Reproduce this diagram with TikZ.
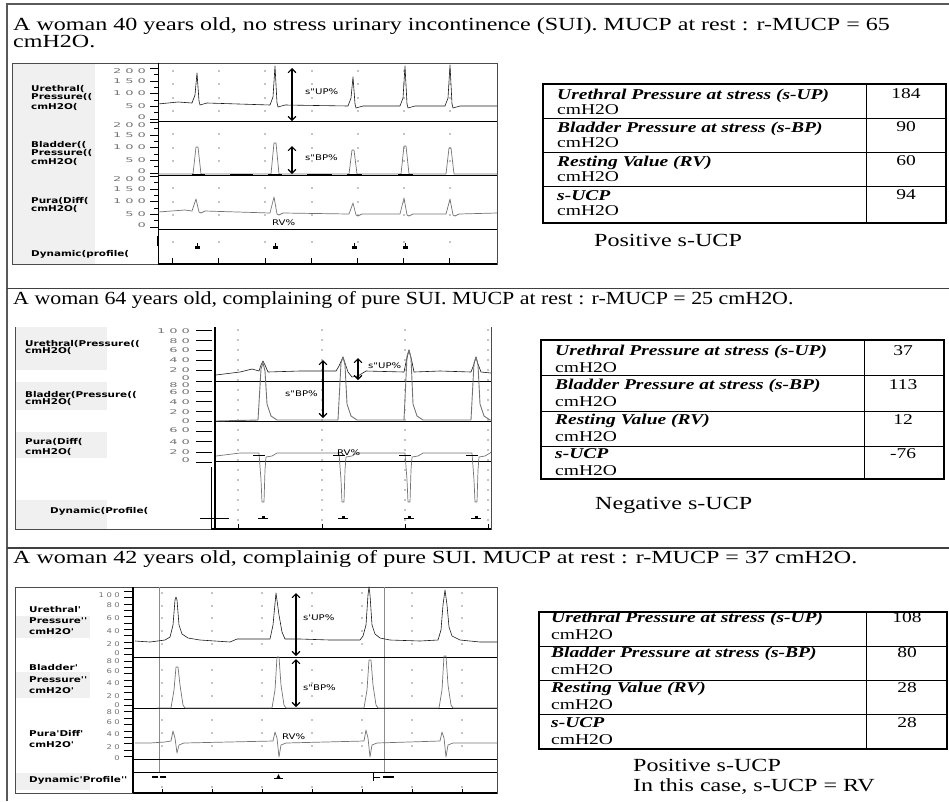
\documentclass[tikz,border=0pt]{standalone}
\usepackage{fontspec}
\usepackage{graphicx}
\setmainfont{Liberation Serif}
\newfontfamily\chartfont{DejaVu Sans}
\newfontfamily\sclfont{DejaVu Sans}[LetterSpace=30]
\usetikzlibrary{arrows}

\newcommand{\wx}[1]{\scalebox{1.3}[1]{#1}}
\newcommand{\wxx}[1]{\scalebox{2}[1]{#1}}

\tikzset{
  headline/.style={anchor=base west,inner sep=0pt,font=\fontsize{18.5}{20}\selectfont},
  cellt/.style={anchor=base west,inner sep=0pt,font=\fontsize{15}{16}\selectfont},
  cellv/.style={anchor=base,inner sep=0pt,font=\fontsize{15}{16}\selectfont},
  chan/.style={anchor=base west,inner sep=0pt,font=\chartfont\bfseries\fontsize{8}{8}\selectfont},
  scl/.style={anchor=east,inner sep=0pt,font=\sclfont\fontsize{6.5}{6.5}\selectfont,text=black!55},
  anno/.style={anchor=base west,inner sep=0pt,font=\chartfont\fontsize{7.8}{8}\selectfont},
  sig/.style={line width=0.6pt,black!90,line join=round},
  gsig/.style={line width=0.7pt,black!55,line join=round},
  dimarrow/.style={<->,line width=1.2pt},
  chartframe/.style={line width=0.6pt,black!70},
  rowline/.style={line width=0.6pt,black},
  tabframe/.style={line width=1.4pt},
  patch/.style={black!6},
}

\begin{document}
\begin{tikzpicture}[x=1pt,y=-1pt,>=angle 90]
\useasboundingbox (0,0) rectangle (949,801);
% frame of the figure
\draw[line width=1.2pt,black!65] (7,801) -- (7,4) -- (949,4);
\draw[line width=1.2pt,black!75] (7,288.5) -- (949,288.5);
\draw[line width=1.2pt,black!75] (7,548) -- (949,548);

% ---------------- panel I
\node[headline] (t1a) at (13,30) {\wx{A woman 40 years old, no stress urinary incontinence (SUI). MUCP at rest : r-MUCP = 65}};
\node[headline] (t1b) at (13,47) {\wx{cmH2O.}};
\fill[patch] (12,63) rectangle (95,264);
\draw[chartframe] (12,63) rectangle (497,264);
\node[chan] (u1a) at (31,91) {\wx{Urethral(}};
\node[chan] (u1b) at (31,99.5) {\wx{Pressure((}};
\node[chan] (u1c) at (31,109) {\wx{cmH2O(}};
\node[chan] (b1a) at (31,147) {\wx{Bladder((}};
\node[chan] (b1b) at (31,155.5) {\wx{Pressure((}};
\node[chan] (b1c) at (31,164) {\wx{cmH2O(}};
\node[chan] (p1a) at (31,203) {\wx{Pura(Diff(}};
\node[chan] (p1b) at (31,211.5) {\wx{cmH2O(}};
\node[chan] (d1) at (31,256) {\wx{Dynamic(profile(}};
% scales
\foreach \z in {119,173,227}{
  \foreach \v [count=\k from 0] in {0,50,100,150,200}
    \node[scl] (s\z\k) at (146,{\z-\k*12.75+(\k==4)*3-(\k==0)*1.5}) {\wxx{\v}};
  \foreach \k in {0,...,4} \draw (150,\z-\k*12.75) -- (158,\z-\k*12.75);
  \foreach \k in {0,...,3} \draw (154,\z-\k*12.75-6.4) -- (158,\z-\k*12.75-6.4);
}
\foreach \x in {173,219,265,312,358,404,450}
  \foreach \y in {71,84,98,111,134,148,161,188,202,215,242}
    \fill (\x,\y) circle (0.6);
\foreach \y in {121,175,229} \draw[rowline] (158,\y) -- (497,\y);
\draw[line width=1pt] (158,63) -- (158,264);
\draw[line width=2pt] (157.5,236) -- (157.5,246);
\draw[line width=1.5pt] (158,264) -- (497,264);
\foreach \x in {172,218,265,311,357,403,449} \draw (\x,264) -- (\x,258);
% urethral
\draw[sig] (158,104) -- (178,102)
  \foreach \px/\py/\b in {197/73/103,275/66/105,353/77/106,405/66/106,450/65/106}
  { -- (\px-5,\b) -- (\px-2,\b-8) -- (\px,\py) -- (\px+2,\b-2) -- (\px+3,\b+2) -- (\px+10,\b) }
  -- (497,106);
% bladder
\draw[gsig] (158,174)
  \foreach \px/\py in {197/147,275/143,353/150,405/146,450/148}
  { -- (\px-4,174) -- (\px-1,\py) -- (\px+1,\py) -- (\px+4,174) }
  -- (497,174);
\foreach \a/\b in {192/205,230/253,268/282,307/332,347/362,398/413}
  \draw[line width=1pt] (\a,174) -- (\b,174);
% pura diff
\draw[gsig] (158,212) -- (185,210)
  \foreach \px/\py/\b in {196/199/211,274/197/213,353/203/214,404/198/214,450/199/214}
  { -- (\px-4,\b) -- (\px,\py) -- (\px+3,\b+1) -- (\px+5,\b+2) -- (\px+9,\b) }
  -- (497,213);
% dynamic profile
\foreach \x in {197,275,354,405}{
  \fill (\x-2.5,246) rectangle (\x+2.5,248.5);
  \draw (\x,243) -- (\x,246);
}
\draw[dimarrow] (292,68) -- (292,121);
\draw[dimarrow] (292,146) -- (292,174);
\node[anno] (sup1) at (305,94) {\wx{s"UP\%}};
\node[anno] (sbp1) at (305,160) {\wx{s"BP\%}};
\node[anno] (rv1) at (272,225) {\wx{RV\%}};
% table
\draw[tabframe] (543,84) rectangle (946,223);
\draw[line width=1pt] (866,84) -- (866,223);
\foreach \y in {118,152,186} \draw[line width=1pt] (543,\y) -- (946,\y);
\foreach \lab/\val [count=\r from 0] in {{Urethral Pressure at stress (s-UP)}/184,{Bladder Pressure at stress (s-BP)}/90,{Resting Value (RV)}/60,{s-UCP}/94}{
  \node[cellt] (l1\r) at (557,99+\r*33.7) {\wx{\textbf{\textit{\lab}}}};
  \node[cellt] (c1\r) at (557,114+\r*33.7) {\wx{cmH2O}};
  \node[cellv] (v1\r) at (906,98+\r*33.7) {\wx{\val}};
}
\node[headline] (r1) at (594,246) {\wx{Positive s-UCP}};

% ---------------- panel II
\node[headline] (t2) at (13,304) {\scalebox{1.185}[1]{A woman 64 years old, complaining of pure SUI. MUCP at rest : r-MUCP = 25 cmH2O.}};
\fill[patch] (15,327) rectangle (107,370);
\fill[patch] (15,382) rectangle (107,410);
\fill[patch] (15,432) rectangle (107,458);
\fill[patch] (15,500) rectangle (107,529);
\draw[chartframe] (15,327) -- (15,529) -- (491,529) -- (491,327);
\node[chan] (u2a) at (25,346) {\wx{Urethral(Pressure((}};
\node[chan] (u2b) at (25,353) {\wx{cmH2O(}};
\node[chan] (b2a) at (25,397) {\wx{Bladder(Pressure((}};
\node[chan] (b2b) at (25,404) {\wx{cmH2O(}};
\node[chan] (p2a) at (25,444) {\wx{Pura(Diff(}};
\node[chan] (p2b) at (25,454) {\wx{cmH2O(}};
\node[chan] (d2) at (50,513) {\wx{Dynamic(Profile(}};
\foreach \v/\y [count=\k] in {100/331,80/341,60/350,40/360,20/370,0/378,80/385,60/392,40/402,20/412,0/421,60/430,40/442,20/452,0/460}
  \node[scl] (s2\k) at (190,\y) {\wxx{\v}};
\foreach \k in {0,...,13} \draw (196,330+\k*10.15) -- (212,330+\k*10.15);
\foreach \x in {238,322,405,488}
  \foreach \y in {330,340,...,520}
    \fill (\x,\y) circle (0.6);
\foreach \y in {381.5,421.5,461.5} \draw[rowline] (216,\y) -- (491,\y);
\draw[line width=1.4pt] (215,327) -- (215,529);
\draw (211,467) -- (211,529);
\draw[line width=1.4pt] (211,529) -- (491,529);
\foreach \x in {238,322,405,488} \draw (\x,529) -- (\x,524);
% urethral
\draw[sig] (216,375) -- (240,372) -- (252,369) -- (259,371) -- (261,365) -- (263,361)
  -- (265,365) -- (268,372) -- (300,371) -- (336,371) -- (339,366) -- (343,357)
  -- (346,366) -- (348,372) -- (352,377) -- (358,376) -- (366,371) -- (404,372)
  -- (406,362) -- (409,350) -- (412,362) -- (414,372) -- (440,371) -- (471,372)
  -- (474,364) -- (476,357) -- (478,364) -- (481,372) -- (491,373);
% bladder
\draw[gsig,line width=0.9pt] (216,421)
  \foreach \px/\py in {263/363,343/357,409/350,476/357}
  { -- (\px-5,420) -- (\px-2,\py+6) -- (\px,\py) -- (\px+2,\py+8) -- (\px+4,404) -- (\px+8,416) -- (\px+14,420) }
  -- (491,420);
% pura diff
\draw[gsig] (216,456) -- (240,453)
  \foreach \px in {263,343,409,476}
  { -- (\px-4,453) -- (\px-2,480) -- (\px-1,502) -- (\px+1,502) -- (\px+2,470) -- (\px+3,457) -- (\px+9,456) -- (\px+14,453) }
  -- (491,452);
\foreach \px in {263,343,409,476} \draw (\px-10,455) -- (\px+2,455);
% dynamic profile
\draw (200,518) -- (229,518);
\foreach \x in {263,343,409,476}{
  \draw (\x-5,518) -- (\x+5,518);
  \fill (\x-1.5,518) rectangle (\x+1.5,515.5);
}
\draw[dimarrow] (323,360) -- (323,418);
\draw[dimarrow] (358,358) -- (358,380);
\node[anno] (sup2) at (368,368) {\wx{s"UP\%}};
\node[anno] (sbp2) at (285,396) {\wx{s"BP\%}};
\node[anno] (rv2) at (337,455) {\wx{RV\%}};
% table
\draw[tabframe] (541,340) rectangle (944,479);
\draw[line width=1pt] (864,340) -- (864,479);
\foreach \y in {375,411,446} \draw[line width=1pt] (541,\y) -- (944,\y);
\foreach \lab/\val [count=\r from 0] in {{Urethral Pressure at stress (s-UP)}/37,{Bladder Pressure at stress (s-BP)}/113,{Resting Value (RV)}/12,{s-UCP}/-76}{
  \node[cellt] (l2\r) at (555,355+\r*34.5) {\wx{\textbf{\textit{\lab}}}};
  \node[cellt] (c2\r) at (555,372+\r*34.5) {\wx{cmH2O}};
  \node[cellv] (v2\r) at (903,355+\r*34.5) {\wx{\val}};
}
\node[headline] (r2) at (595,509) {\wx{Negative s-UCP}};

% ---------------- panel III
\node[headline] (t3) at (13,563) {\wx{A woman 42 years old, complainig of pure SUI. MUCP at rest : r-MUCP = 37 cmH2O.}};
\fill[patch] (15,616) rectangle (90,638);
\fill[patch] (15,672) rectangle (90,698);
\fill[patch] (15,773) rectangle (90,790);
\draw[chartframe] (15,587) rectangle (497,793);
\node[chan] (u3a) at (29,612) {\wx{Urethral'}};
\node[chan] (u3b) at (29,623) {\wx{Pressure'{}'}};
\node[chan] (u3c) at (29,634) {\wx{cmH2O'}};
\node[chan] (b3a) at (29,670) {\wx{Bladder'}};
\node[chan] (b3b) at (29,682) {\wx{Pressure'{}'}};
\node[chan] (b3c) at (29,693) {\wx{cmH2O'}};
\node[chan] (p3a) at (29,736) {\wx{Pura'Diff'}};
\node[chan] (p3b) at (29,747) {\wx{cmH2O'}};
\node[chan] (d3) at (29,782) {\wx{Dynamic'Profile'{}'}};
\foreach \v/\y [count=\k] in {100/595,80/605,60/618,40/631,20/644,0/653,80/661,60/671,40/683,20/696,0/705,80/712,60/722,40/734,20/747,0/758}
  \node[scl] (s3\k) at (120,\y) {\wx{\v}};
\foreach \k in {0,...,26} \draw (124,591+\k*6.35) -- (132,591+\k*6.35);
\foreach \x in {162,212,262,312,362,412,462}
  \foreach \y in {593,606,618,631,644,670,683,696,720,733,746,787}
    \fill (\x,\y) circle (0.6);
\draw[black!45,line width=0.8pt] (159,587) -- (159,772);
\draw[black!45,line width=0.8pt] (384,587) -- (384,772);
\foreach \y in {657,708,759,772} \draw[rowline] (134,\y) -- (497,\y);
\draw[line width=1.8pt] (133,587) -- (133,793);
\draw[line width=1.4pt] (133,793) -- (497,793);
\foreach \x in {162,212,262,312,362,412,462} \draw (\x,793) -- (\x,789);
% urethral
\draw[sig] (135,641) -- (150,642) -- (165,640) -- (170,637) -- (173,625) -- (175,600)
  -- (176,597) -- (177,600) -- (179,625) -- (182,634) -- (188,638) -- (200,640)
  -- (230,642) -- (237,639) -- (270,639) -- (273,625) -- (276,593) -- (279,615)
  -- (282,632) -- (285,639) -- (300,639) -- (330,640) -- (360,640) -- (363,636)
  -- (366,625) -- (368,595) -- (369,587) -- (370,595) -- (372,625) -- (375,634)
  -- (380,638) -- (390,640) -- (420,641) -- (438,640) -- (441,630) -- (443,605)
  -- (445,590) -- (447,605) -- (449,627) -- (452,636) -- (460,640) -- (480,642) -- (497,642);
% bladder
\draw[line width=1pt] (135,708) -- (157,708);
\draw[gsig] (157,708)
  \foreach \px/\py in {177/667,278/657,370/660,445/656}
  { -- (\px-6,708) -- (\px-3,690) -- (\px-1,\py) -- (\px+1,\py) -- (\px+3,685) -- (\px+6,705) -- (\px+8,708) }
  -- (497,708);
% pura diff
\draw[gsig] (135,743) -- (150,743) -- (165,742)
  \foreach \px/\up/\dn in {176/731/753,278/732/757,369/730/757,445/732/757}
  { -- (\px-5,741) -- (\px-3,\up) -- (\px-1,738) -- (\px+1,\dn) -- (\px+3,745) -- (\px+8,743) }
  -- (497,743);
% dynamic profile
\draw[line width=1.5pt] (152,777) -- (158,777) (160,777) -- (166,777);
\draw (274,778) -- (283,778);
\fill (276.5,778) -- (278.5,774) -- (280.5,778) -- cycle;
\draw (373,773) -- (373,781) (373,777) -- (380,777);
\draw[line width=1.5pt] (383,777) -- (394,777);
\draw[dimarrow] (296,593) -- (296,656);
\draw[dimarrow] (296,659) -- (296,707);
\node[anno] (sup3) at (303,620) {\wx{s'UP\%}};
\node[anno] (sbp3) at (303,690) {\wx{s"BP\%}};
\node[anno] (rv3) at (282,739) {\wx{RV\%}};
% table
\draw[tabframe] (539,612) rectangle (947,749);
\draw[line width=1pt] (866,612) -- (866,749);
\foreach \y in {646,680,714} \draw[line width=1pt] (539,\y) -- (947,\y);
\foreach \lab/\val [count=\r from 0] in {{Urethral Pressure at stress (s-UP)}/108,{Bladder Pressure at stress (s-BP)}/80,{Resting Value (RV)}/28,{s-UCP}/28}{
  \node[cellt] (l3\r) at (551,622+\r*35) {\wx{\textbf{\textit{\lab}}}};
  \node[cellt] (c3\r) at (551,639+\r*35) {\wx{cmH2O}};
  \node[cellv] (v3\r) at (907,622+\r*35) {\wx{\val}};
}
\node[headline] (r3a) at (633,771) {\wx{Positive s-UCP}};
\node[headline] (r3b) at (633,791) {\wx{In this case, s-UCP = RV}};
\end{tikzpicture}
\end{document}
